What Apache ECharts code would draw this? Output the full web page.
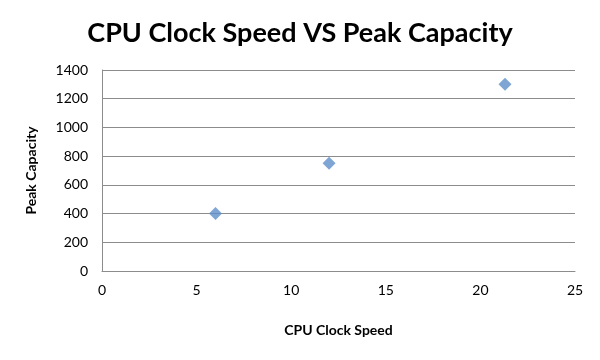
<!DOCTYPE html>
<html><head><meta charset="utf-8">
<script src="https://cdn.jsdelivr.net/npm/echarts@6/dist/echarts.min.js"></script>
<style>html,body{margin:0;padding:0;background:#fff}#c{width:600px;height:360px}</style>
</head><body><div id="c"></div>
<script>
const clockSpeed = [6, 12, 21.3];
const peakCapacity = [400, 750, 1300];
const titleText = 'CPU Clock Speed VS Peak Capacity';
const xName = 'CPU Clock Speed';
const yName = 'Peak Capacity';

const chart = echarts.init(document.getElementById('c'), null, {renderer: 'canvas'});
chart.setOption({
  animation: false,
  backgroundColor: '#ffffff',
  title: {
    text: titleText, left: 'center', top: 15,
    textStyle: {fontFamily: 'Lato', fontWeight: 'bold', fontSize: 27, color: '#000'}
  },
  grid: {left: 102, right: 25, top: 70, bottom: 89},
  xAxis: {
    type: 'value', min: 0, max: 25, interval: 5,
    name: xName, nameLocation: 'middle', nameGap: 52,
    nameTextStyle: {fontFamily: 'Lato', fontWeight: 'bold', fontSize: 14, color: '#000'},
    axisLine: {show: true, lineStyle: {color: '#8c8c8c'}},
    axisTick: {show: false},
    axisLabel: {fontFamily: 'Lato', fontSize: 14, color: '#000', margin: 12},
    splitLine: {show: false}
  },
  yAxis: {
    type: 'value', min: 0, max: 1400, interval: 200,
    name: yName, nameLocation: 'middle', nameGap: 64,
    nameTextStyle: {fontFamily: 'Lato', fontWeight: 'bold', fontSize: 14, color: '#000'},
    axisLine: {show: true, lineStyle: {color: '#8c8c8c'}},
    axisTick: {show: false},
    axisLabel: {fontFamily: 'Lato', fontSize: 14, color: '#000', margin: 14, formatter: v => String(v)},
    splitLine: {show: true, lineStyle: {color: '#8c8c8c'}}
  },
  series: [{
    type: 'scatter', symbol: 'diamond', symbolSize: 13,
    itemStyle: {color: '#5f8ec9'},
    data: clockSpeed.map((x, i) => [x, peakCapacity[i]])
  }]
});
</script></body></html>
